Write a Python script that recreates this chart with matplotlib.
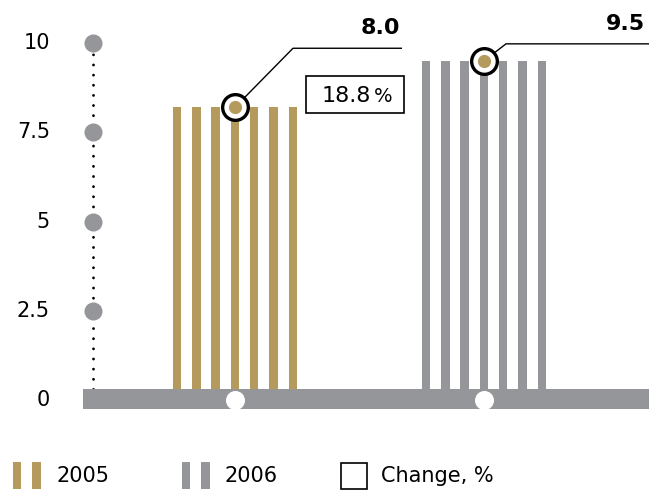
import matplotlib
matplotlib.use('Agg')
import matplotlib.pyplot as plt
from matplotlib.patches import Rectangle

# ---- data ----
years = ['2005', '2006']
values = [8.2, 9.5]            # bar heights as drawn
value_labels = ['8.0', '9.5']
change_value = '18.8'
change_unit = '%'
yticks = [0, 2.5, 5, 7.5, 10]
ytick_labels = ['0', '2.5', '5', '7.5', '10']
legend_labels = ['2005', '2006', 'Change, %']
n_stripes = 7

GOLD = '#b49a5c'
GRAY = '#959699'
colors = [GOLD, GRAY]

W, H = 649, 491
fig = plt.figure(figsize=(W / 100, H / 100), dpi=100)
ax = fig.add_axes([0, 0, 1, 1])
X0, GAP = 235, 249      # px of first group centre, px between groups
Y0, PPU = 400, 35.7     # px (from top) of y=0, px per unit
ax.set_xlim(-X0 / GAP, (W - X0) / GAP)
ax.set_ylim(-(H - Y0) / PPU, Y0 / PPU)
ax.axis('off')


def dx(p):
    return p / GAP


def dy(p):
    return p / PPU


def xpx(p):
    return (p - X0) / GAP


def ypx(p):
    return (Y0 - p) / PPU


# striped bars
stripe_w = dx(8.4)
stripe_p = dx(19.3)
for i, (v, c) in enumerate(zip(values, colors)):
    xs = [i + (k - (n_stripes - 1) / 2) * stripe_p for k in range(n_stripes)]
    ax.bar(xs, [v] * n_stripes, width=stripe_w, color=c, zorder=2, linewidth=0)

# baseline band
ax.axhspan(-dy(9), dy(11), xmin=83 / W, xmax=1, color=GRAY, zorder=3, lw=0)
ax.plot(range(len(values)), [0] * len(values), 'o', ms=13.7, color='white',
        mew=0, zorder=4)

# y axis: dotted line and gray dots
xa = xpx(93)
ax.plot([xa, xa], [0.3, yticks[-1]], color='black', lw=2.0,
        linestyle=(0, (0.05, 3.6)), dash_capstyle='round', zorder=1)
ax.plot([xa] * (len(yticks) - 1), yticks[1:], 'o', ms=13, color=GRAY,
        mew=0, zorder=2)
for t, l in zip(yticks, ytick_labels):
    ax.text(xpx(50), t, l, ha='right', va='center', fontsize=15,
            color='black')

# leader lines and value labels
elbows = [(58, 59), (22, 17)]     # px offset of elbow from marker
ends = [402, 649]                 # px x of leader line end
label_x = [400, 645]
for i, v in enumerate(values):
    ex = i + dx(elbows[i][0])
    ey = v + dy(elbows[i][1])
    ax.plot([i, ex, xpx(ends[i])], [v, ey, ey], color='black', lw=1.0,
            zorder=5, solid_capstyle='butt')
    ax.text(xpx(label_x[i]), ey + dy(14), value_labels[i], ha='right',
            va='baseline', fontsize=16, fontweight='bold')
    ax.plot(i, v, 'o', ms=18.5, mfc='white', mec='black', mew=2.4, zorder=6)
    ax.plot(i, v, 'o', ms=9.5, color=GOLD, mew=0, zorder=7)

# change box
ax.add_patch(Rectangle((xpx(306), ypx(113)), dx(98), dy(37), fill=False,
                       ec='black', lw=1.2, zorder=5))
ax.text(xpx(371), ypx(101.5), change_value, ha='right', va='baseline',
        fontsize=16, zorder=6)
ax.text(xpx(374), ypx(101.5), change_unit, ha='left', va='baseline',
        fontsize=14, zorder=6)

# legend (figure pixel coords)
def F(px, py):
    return px / W, 1 - py / H


def frect(x0, x1, y0, y1, **kw):
    fig.add_artist(Rectangle(F(x0, y1), (x1 - x0) / W, (y1 - y0) / H,
                             transform=fig.transFigure, **kw))


for (a, b), c in zip([((13, 21), (32, 41)), ((182, 190), (201, 210))], colors):
    frect(a[0], a[1], 462, 489, color=c, lw=0)
    frect(b[0], b[1], 462, 489, color=c, lw=0)
frect(341, 367, 463, 489, fill=False, ec='black', lw=1.2)
for px, lab in zip([57, 225, 381], legend_labels):
    fig.text(*F(px, 476), lab, ha='left', va='center', fontsize=15)

fig.savefig('out.png', dpi=100)
